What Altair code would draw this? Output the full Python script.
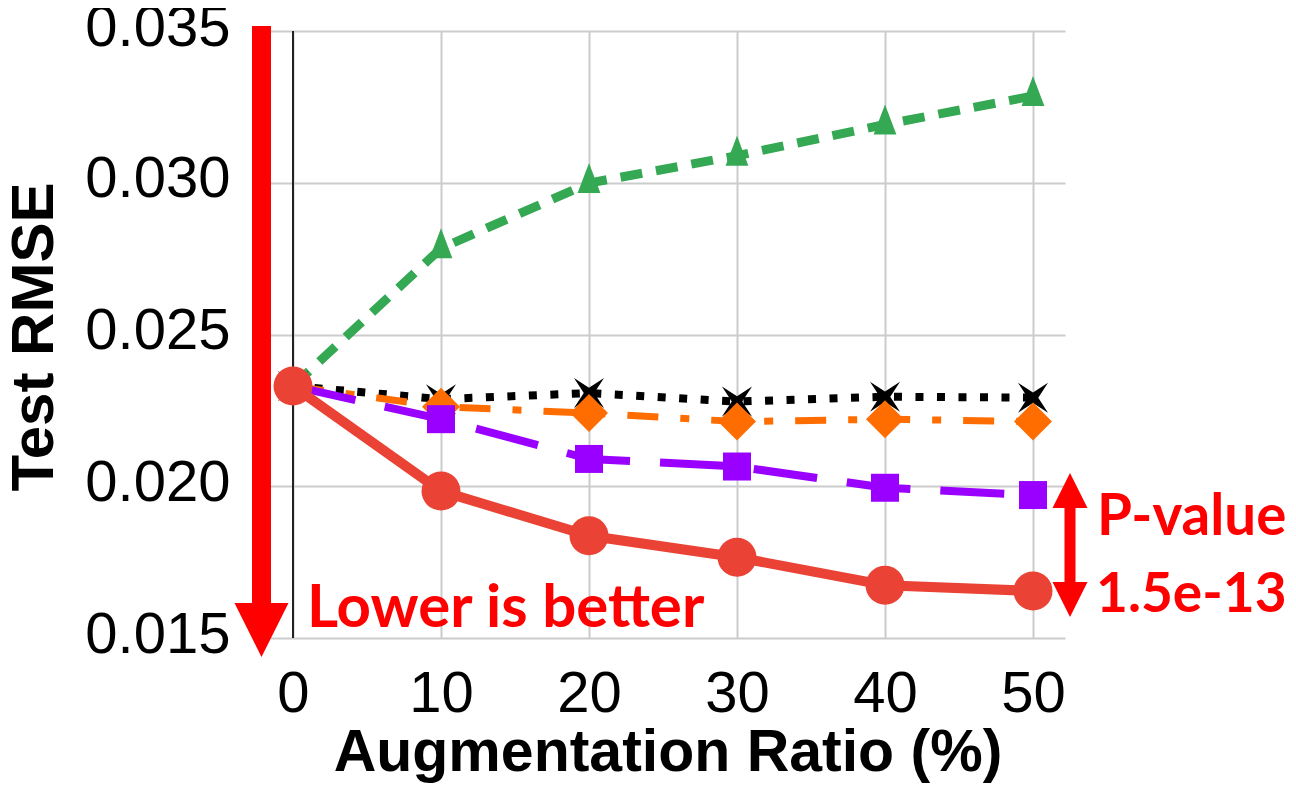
import altair as alt
import pandas as pd

# ---- data ----
ratios = [0, 10, 20, 30, 40, 50]
green_vals = [0.0233, 0.02784, 0.02999, 0.03089, 0.03192, 0.03286]
black_vals = [0.0233, 0.02287, 0.02307, 0.02279, 0.02295, 0.02292]
orange_vals = [0.0233, 0.02262, 0.02241, 0.02213, 0.02221, 0.02213]
purple_vals = [0.0233, 0.02221, 0.02090, 0.02065, 0.01995, 0.01971]
red_vals = [0.0233, 0.01984, 0.01837, 0.01766, 0.01674, 0.01655]

x_ticks = [0, 10, 20, 30, 40, 50]
y_ticks = [0.015, 0.020, 0.025, 0.030, 0.035]
x_title = "Augmentation Ratio (%)"
y_title = "Test RMSE"
note_lower = "Lower is better"
note_p1 = "P-value"
note_p2 = "1.5e-13"

W, H = 795, 607
FONT = "Liberation Sans"
RED = "#ff0000"

xscale = alt.Scale(domain=[-1.554, 52.162], nice=False, zero=False)
yscale = alt.Scale(domain=[0.015, 0.035], nice=False, zero=False)

xaxis = alt.Axis(values=x_ticks, title=x_title, grid=True, gridColor="#cccccc",
                 gridWidth=2, domain=False, ticks=False, labelFont=FONT,
                 labelFontSize=58, labelColor="#000000", labelPadding=27,
                 labelFlush=False, labelOverlap=False,
                 titleFont=FONT, titleFontSize=59, titleFontWeight="bold",
                 titleColor="#000000", titleY=132, titleBaseline="alphabetic")
yaxis = alt.Axis(values=y_ticks, format=".3f", title=y_title, grid=True,
                 gridColor="#cccccc", gridWidth=2, domain=False, ticks=False,
                 labelFont=FONT, labelFontSize=58, labelColor="#000000",
                 labelPadding=40, labelOffset=-3, labelFlush=False,
                 labelOverlap=False,
                 titleFont=FONT, titleFontSize=60, titleFontWeight="bold",
                 titleColor="#000000", titleX=-218, titleY=305.5,
                 titleBaseline="alphabetic", titleAngle=270)

TRI = "M0,-1.333L0.759,0.667L-0.759,0.667Z"
STAR = "M-1,-1L0,-0.35L1,-1L0.35,0L1,1L0,0.35L-1,1L-0.35,0Z"

series = [
    (green_vals, "#34a853", [22, 14], 9, TRI, 900),
    (black_vals, "#000000", [8, 13.5], 8, STAR, 900),
    (orange_vals, "#ff6d01", [31, 22, 9, 22], 7, "diamond", 1444),
    (purple_vals, "#9900ff", [64, 30], 8, "square", 784),
    (red_vals, "#ea4335", [1, 0], 10, "circle", 1521),
]

layers = []
# grid/axes carrier + black zero line
zero_df = pd.DataFrame({"ratio": [0]})
layers.append(
    alt.Chart(zero_df).mark_rule(color="#222222", strokeWidth=2).encode(
        x=alt.X("ratio:Q", scale=xscale, axis=xaxis),
        y=alt.datum(0.035, scale=yscale, axis=yaxis),
        y2=alt.datum(0.015),
    )
)

for vals, color, dash, width, shape, size in series:
    df = pd.DataFrame({"ratio": ratios, "rmse": vals})
    base = alt.Chart(df).encode(
        x=alt.X("ratio:Q", scale=xscale, axis=xaxis),
        y=alt.Y("rmse:Q", scale=yscale, axis=yaxis),
    )
    line_kw = dict(color=color, strokeWidth=width, strokeCap="butt", strokeJoin="round")
    if dash != [1, 0]:
        line_kw["strokeDash"] = dash
    layers.append(base.mark_line(**line_kw))
    layers.append(base.mark_point(shape=shape, size=size, filled=True, fill=color,
                                  opacity=1, strokeWidth=0))

one = alt.Data(values=[{"a": 1}])

# big downward arrow
layers.append(alt.Chart(one).mark_rule(color=RED, strokeWidth=19, strokeCap="butt").encode(
    x=alt.value(-8.5), y=alt.value(-5), y2=alt.value(584)))
layers.append(alt.Chart(one).mark_point(shape="M-1,-1L1,-1L0,1Z", size=2916, filled=True,
                                        fill=RED, opacity=1, strokeWidth=0).encode(
    x=alt.value(-8.5), y=alt.value(599)))
# double arrow
layers.append(alt.Chart(one).mark_rule(color=RED, strokeWidth=11, strokeCap="butt").encode(
    x=alt.value(800), y=alt.value(460), y2=alt.value(568)))
layers.append(alt.Chart(one).mark_point(shape="M0,-1L1,1L-1,1Z", size=1225, filled=True,
                                        fill=RED, opacity=1, strokeWidth=0).encode(
    x=alt.value(800), y=alt.value(459.5)))
layers.append(alt.Chart(one).mark_point(shape="M-1,-1L1,-1L0,1Z", size=1225, filled=True,
                                        fill=RED, opacity=1, strokeWidth=0).encode(
    x=alt.value(800), y=alt.value(568.5)))

# red texts
txt = dict(font="Lato", fontWeight="bold", color=RED, align="left",
           baseline="alphabetic")
layers.append(alt.Chart(one).mark_text(text=note_lower, fontSize=60, **txt).encode(
    x=alt.value(37), y=alt.value(596)))
layers.append(alt.Chart(one).mark_text(text=note_p1, fontSize=56.5, **txt).encode(
    x=alt.value(827), y=alt.value(504)))
layers.append(alt.Chart(one).mark_text(text=note_p2, fontSize=55, **txt).encode(
    x=alt.value(826), y=alt.value(581)))

chart = alt.layer(*layers).properties(
    width=W, height=H,
    autosize=alt.AutoSizeParams(type="none"),
    padding={"left": 262, "top": 23, "right": 223, "bottom": 150},
    background="#ffffff",
).configure_view(stroke=None)

chart.save("out.html", embed_options={"renderer": "svg", "actions": False})
